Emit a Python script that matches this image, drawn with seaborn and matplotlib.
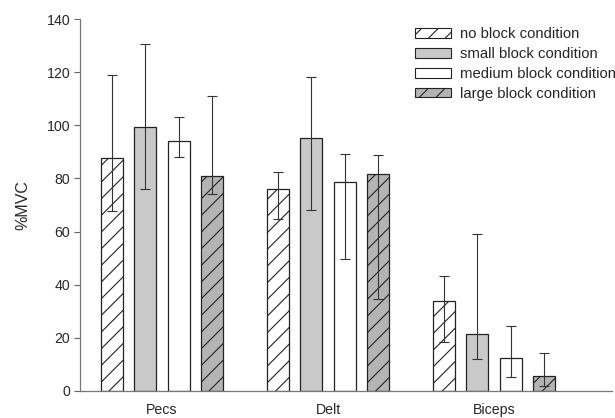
import pandas as pd
import matplotlib.pyplot as plt
import seaborn as sns
from matplotlib.patches import Patch

# Valeurs (%MVC)
muscles = ['Pecs', 'Delt', 'Biceps']
conditions = ['no block condition', 'small block condition',
              'medium block condition', 'large block condition']
mean_no = [87.7, 76.1, 33.7]
mean_small = [99.2, 95.3, 21.3]
mean_medium = [94.0, 78.5, 12.5]
mean_large = [81.0, 81.7, 5.5]
# extrémités des barres d'erreur (haut / bas)
hi_no = [119.0, 82.5, 43.2]
hi_small = [130.5, 118.0, 59.2]
hi_medium = [103.3, 89.3, 24.3]
hi_large = [110.9, 88.7, 14.4]
lo_no = [67.6, 64.7, 18.5]
lo_small = [76.1, 68.1, 11.9]
lo_medium = [88.1, 49.7, 5.4]
lo_large = [74.2, 34.8, 2.0]

means = [mean_no, mean_small, mean_medium, mean_large]
his = [hi_no, hi_small, hi_medium, hi_large]
los = [lo_no, lo_small, lo_medium, lo_large]

rows = []
for cond, vals in zip(conditions, means):
    for m, v in zip(muscles, vals):
        rows.append({'muscle': m, 'condition': cond, 'mvc': v})
df = pd.DataFrame(rows)

sns.set_style('ticks')
plt.rcParams['font.family'] = ['Liberation Sans', 'DejaVu Sans']
plt.rcParams['hatch.linewidth'] = 0.8

styles = [
    dict(facecolor='white', hatch='//'),
    dict(facecolor='#c9c9c9', hatch=''),
    dict(facecolor='white', hatch=''),
    dict(facecolor='#b4b4b4', hatch='//'),
]

fig = plt.figure(figsize=(6.15, 4.18), dpi=100)
ax = fig.add_axes([0.130, 0.0646, 0.865, 0.8899])
sns.barplot(data=df, x='muscle', y='mvc', hue='condition', order=muscles,
            hue_order=conditions, gap=0.34, legend=False, ax=ax,
            edgecolor='#222222', linewidth=0.9)

for cont, st, hi, lo in zip(ax.containers, styles, his, los):
    xs = []
    for bar in cont:
        bar.set_facecolor(st['facecolor'])
        bar.set_hatch(st['hatch'])
        bar.set_edgecolor('#222222')
        xs.append(bar.get_x() + bar.get_width() / 2)
    for x, h, l in zip(xs, hi, lo):
        ax.errorbar(x, (h + l) / 2, yerr=(h - l) / 2, fmt='none',
                    ecolor='#333333', elinewidth=0.8, capsize=3.3,
                    capthick=0.8, zorder=5)

ax.set_ylim(0, 140)
ax.set_xlim(-0.494, 2.71)
ax.set_yticks(range(0, 141, 20))
ax.set_xlabel('')
ax.set_ylabel('%MVC', fontsize=11.5, labelpad=12)
ax.tick_params(axis='y', length=4, width=0.8, color='#666666', labelsize=10.2, pad=3)
ax.tick_params(axis='x', length=0, labelsize=10.2, pad=9)
sns.despine(ax=ax)
for s in ['left', 'bottom']:
    ax.spines[s].set_color('#777777')
    ax.spines[s].set_linewidth(0.9)

handles = [Patch(facecolor=st['facecolor'], hatch=st['hatch'],
                 edgecolor='#222222', linewidth=0.8) for st in styles]
fig.legend(handles, conditions, loc='upper left', bbox_to_anchor=(0.675, 0.935),
           frameon=False, fontsize=10.7, handlelength=2.4, handleheight=0.6,
           handletextpad=0.6, labelspacing=0.4, borderpad=0, borderaxespad=0)

fig.savefig('out.png', dpi=100)
